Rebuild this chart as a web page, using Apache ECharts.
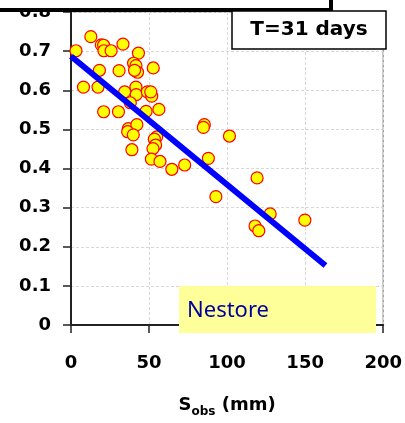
<!DOCTYPE html>
<html lang="en">
<head>
    <meta charset="UTF-8">
    <title>Nestore T=31 days</title>
    <script src="https://cdn.jsdelivr.net/npm/echarts@6/dist/echarts.min.js"></script>
    <style>
        html, body { margin: 0; padding: 0; background: #fff; }
        #main { width: 405px; height: 423px; }
    </style>
</head>
<body>
    <div id="main"></div>

    <script>
        var myChart = echarts.init(document.getElementById('main'));

        // observed storage (mm) and the y value of each point
        var sObs = [3.2, 12.7, 19.4, 20.9, 21.1, 25.7, 33.3, 43.2, 18.2, 30.8,
                    40.1, 41.6, 42.6, 40.7, 52.7, 8.0, 17.3, 34.4, 41.6, 41.8,
                    48.9, 51.7, 51.1, 20.9, 30.4, 38.0, 48.1, 56.3, 36.7, 42.2,
                    36.3, 39.9, 54.9, 53.4, 54.2, 52.5, 39.0, 51.5, 57.0, 64.6,
                    72.8, 85.4, 84.8, 101.5, 88.0, 119.2, 92.8, 127.6, 149.8, 117.9,
                    120.3];
        var yVal = [0.701, 0.737, 0.716, 0.715, 0.701, 0.701, 0.718, 0.695, 0.651, 0.650,
                    0.669, 0.663, 0.646, 0.651, 0.657, 0.608, 0.608, 0.596, 0.608, 0.589,
                    0.596, 0.585, 0.596, 0.545, 0.545, 0.568, 0.546, 0.551, 0.502, 0.512,
                    0.494, 0.486, 0.481, 0.475, 0.460, 0.451, 0.448, 0.424, 0.418, 0.398,
                    0.409, 0.512, 0.505, 0.483, 0.426, 0.376, 0.328, 0.284, 0.268, 0.253,
                    0.241];

        // regression line end points
        var fitX = [0, 163];
        var fitY = [0.687, 0.152];

        var scatterData = sObs.map(function (x, i) { return [x, yVal[i]]; });
        var fitData = fitX.map(function (x, i) { return [x, fitY[i]]; });

        var labelFont = {
            color: '#000',
            fontFamily: 'DejaVu Sans',
            fontWeight: 'bold',
            fontSize: 18
        };

        var option = {
            backgroundColor: '#fff',
            animation: false,
            grid: {
                left: 71, right: 17, top: 12, bottom: 96,
                show: true,
                borderColor: '#a0a0a0',
                borderWidth: 1.5
            },
            xAxis: {
                type: 'value',
                min: 0, max: 200, interval: 50,
                name: '{n|S}{sub|obs}{n| (mm)}',
                nameLocation: 'middle',
                nameGap: 67,
                nameTextStyle: {
                    rich: {
                        n: { fontFamily: 'DejaVu Sans', fontWeight: 'bold', fontSize: 18, color: '#000', lineHeight: 26, verticalAlign: 'middle' },
                        sub: { fontFamily: 'DejaVu Sans', fontWeight: 'bold', fontSize: 12, color: '#000', lineHeight: 14, verticalAlign: 'bottom' }
                    }
                },
                axisLine: { onZero: false, lineStyle: { color: '#222', width: 2 } },
                axisTick: { length: 8, lineStyle: { color: '#222', width: 1.5 } },
                axisLabel: Object.assign({ margin: 29 }, labelFont),
                splitLine: { show: true, lineStyle: { color: '#d8d8d8', type: [3, 2], width: 1 } }
            },
            yAxis: {
                type: 'value',
                min: 0, max: 0.8, interval: 0.1,
                axisLine: { show: true, onZero: false, lineStyle: { color: '#222', width: 2 } },
                axisTick: { show: true, length: 8, lineStyle: { color: '#222', width: 1.5 } },
                axisLabel: Object.assign({ margin: 20 }, labelFont),
                splitLine: { show: true, lineStyle: { color: '#d8d8d8', type: [3, 2], width: 1 } }
            },
            series: [
                {
                    type: 'scatter',
                    data: scatterData,
                    symbol: 'circle',
                    symbolSize: 12,
                    itemStyle: { color: '#ffff00', borderColor: '#ff0000', borderWidth: 1.2, opacity: 1 },
                    z: 2
                },
                {
                    type: 'line',
                    data: fitData,
                    showSymbol: false,
                    symbol: 'none',
                    lineStyle: { color: '#0000ff', width: 6 },
                    z: 3
                }
            ],
            graphic: [
                {
                    type: 'rect', z: 100,
                    shape: { x: -10, y: -10, width: 341, height: 20 },
                    style: { fill: '#fff', stroke: '#000', lineWidth: 4 }
                },
                {
                    type: 'rect', z: 100,
                    shape: { x: 232, y: 11, width: 154, height: 38 },
                    style: { fill: '#fff', stroke: '#000', lineWidth: 1.5 }
                },
                {
                    type: 'text', z: 101,
                    x: 309, y: 30,
                    style: {
                        text: 'T=31 days',
                        fill: '#000',
                        font: 'bold 20px "DejaVu Sans"',
                        align: 'center',
                        verticalAlign: 'middle'
                    }
                },
                {
                    type: 'rect', z: 100,
                    shape: { x: 179, y: 286, width: 197, height: 47 },
                    style: { fill: '#ffff99' }
                },
                {
                    type: 'text', z: 101,
                    x: 187, y: 311,
                    style: {
                        text: 'Nestore',
                        fill: '#00009c',
                        font: '22px "Noto Sans"',
                        align: 'left',
                        verticalAlign: 'middle'
                    }
                }
            ]
        };

        myChart.setOption(option);
    </script>
</body>
</html>
